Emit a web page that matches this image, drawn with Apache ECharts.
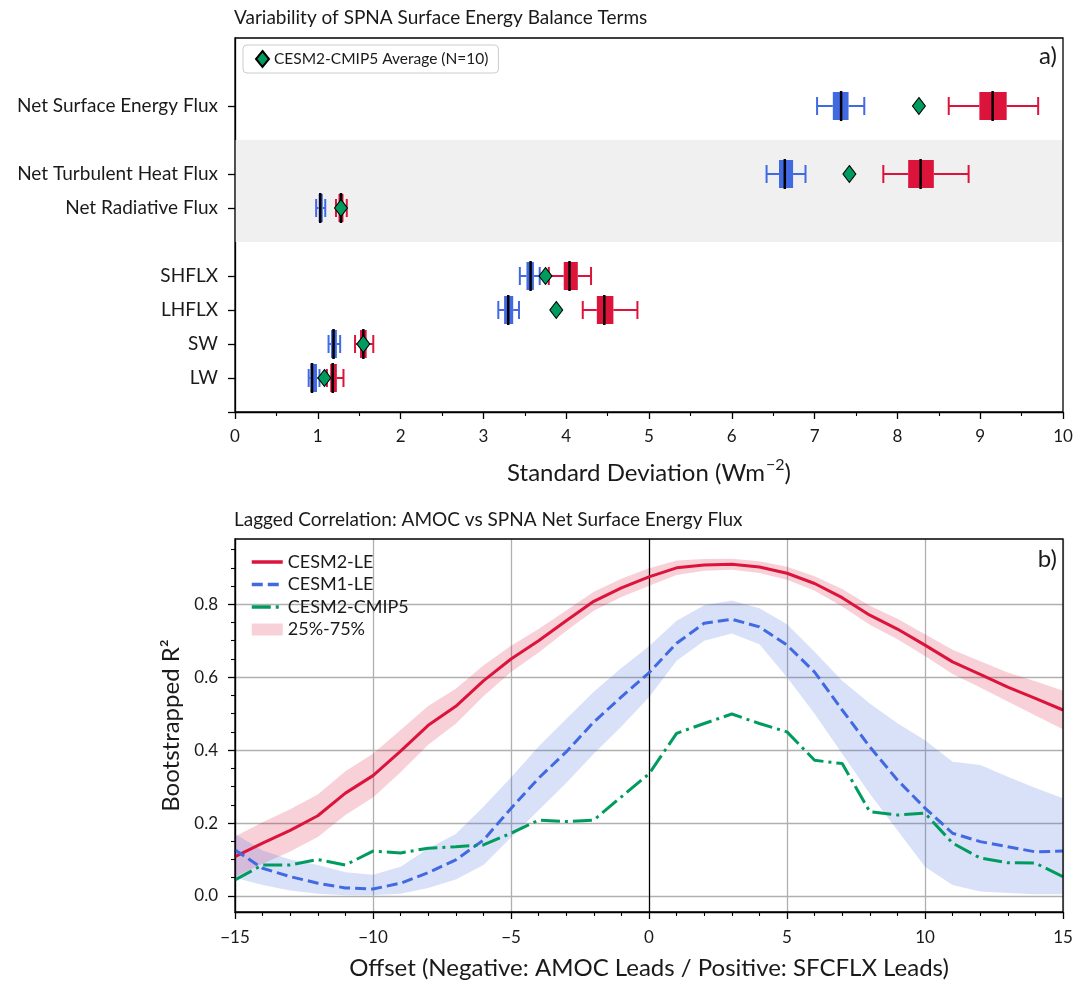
<!DOCTYPE html>
<html><head><meta charset="utf-8">
<script src="https://cdn.jsdelivr.net/npm/echarts@6/dist/echarts.min.js"></script>
<style>html,body{margin:0;padding:0;background:#fff}#c{width:1088px;height:982px}</style>
</head><body><div id="c"></div>
<script>
// ---------- Panel a) data ----------
const termNames = ['Net Surface Energy Flux','Net Turbulent Heat Flux','Net Radiative Flux','SHFLX','LHFLX','SW','LW'];
const termRows  = [9, 7, 6, 4, 3, 2, 1];
// [whiskerLow, q1, median, q3, whiskerHigh]
const cesm1Box = [
  [7.03, 7.22, 7.32, 7.41, 7.60],
  [6.42, 6.57, 6.64, 6.74, 6.89],
  [0.98, 1.01, 1.03, 1.06, 1.09],
  [3.44, 3.52, 3.57, 3.61, 3.68],
  [3.18, 3.25, 3.30, 3.36, 3.43],
  [1.13, 1.16, 1.19, 1.23, 1.27],
  [0.89, 0.91, 0.93, 0.99, 1.02]
];
const cesm2Box = [
  [8.62, 8.99, 9.15, 9.32, 9.70],
  [7.83, 8.13, 8.28, 8.44, 8.86],
  [1.22, 1.25, 1.28, 1.31, 1.35],
  [3.79, 3.97, 4.04, 4.14, 4.30],
  [4.20, 4.37, 4.46, 4.57, 4.86],
  [1.45, 1.51, 1.55, 1.59, 1.67],
  [1.11, 1.15, 1.18, 1.23, 1.31]
];
const cmip5Avg = [8.26, 7.42, 1.28, 3.75, 3.88, 1.55, 1.08];
const xTicksA = [0,1,2,3,4,5,6,7,8,9,10];

// ---------- Panel b) data ----------
const lags = [-15,-14,-13,-12,-11,-10,-9,-8,-7,-6,-5,-4,-3,-2,-1,0,1,2,3,4,5,6,7,8,9,10,11,12,13,14,15];
const cesm2Line = [0.108,0.145,0.18,0.22,0.282,0.33,0.397,0.468,0.52,0.59,0.65,0.70,0.755,0.808,0.845,0.875,0.90,0.908,0.91,0.902,0.885,0.857,0.818,0.77,0.732,0.688,0.642,0.608,0.573,0.542,0.51];
const cesm2Lo = [0.053,0.088,0.122,0.162,0.222,0.27,0.339,0.415,0.472,0.548,0.614,0.668,0.727,0.782,0.82,0.851,0.88,0.892,0.895,0.886,0.867,0.837,0.794,0.744,0.704,0.658,0.609,0.572,0.533,0.495,0.457];
const cesm2Hi = [0.163,0.202,0.238,0.278,0.342,0.39,0.455,0.521,0.568,0.632,0.686,0.732,0.783,0.834,0.87,0.899,0.92,0.924,0.925,0.918,0.903,0.877,0.842,0.796,0.76,0.718,0.675,0.644,0.613,0.589,0.563];
const cesm1Line = [0.126,0.076,0.053,0.035,0.022,0.019,0.035,0.064,0.099,0.153,0.24,0.323,0.395,0.477,0.546,0.612,0.693,0.748,0.759,0.738,0.688,0.614,0.51,0.409,0.318,0.241,0.172,0.149,0.135,0.121,0.123];
const cesm1Lo = [0.05,0.03,0.015,0.006,0.002,0.002,0.006,0.022,0.045,0.085,0.16,0.235,0.31,0.39,0.465,0.545,0.645,0.70,0.72,0.69,0.60,0.50,0.39,0.28,0.18,0.08,0.03,0.012,0.008,0.005,0.005];
const cesm1Hi = [0.17,0.125,0.10,0.085,0.065,0.058,0.08,0.13,0.17,0.245,0.325,0.41,0.485,0.56,0.625,0.685,0.755,0.797,0.81,0.789,0.745,0.67,0.59,0.528,0.474,0.427,0.368,0.359,0.327,0.296,0.268];
const cmip5Line = [0.044,0.085,0.085,0.10,0.085,0.123,0.118,0.131,0.135,0.14,0.172,0.208,0.204,0.208,0.272,0.335,0.446,0.473,0.499,0.473,0.45,0.372,0.363,0.231,0.222,0.227,0.145,0.104,0.091,0.09,0.053];
const yTicksB = [0, 0.2, 0.4, 0.6, 0.8];
const yMinorB = [0.05,0.1,0.15,0.25,0.3,0.35,0.45,0.5,0.55,0.65,0.7,0.75,0.85,0.9,0.95];

// ---------- styles ----------
const RED = '#DC143C', BLUE = '#4169E1', GREEN = '#009B5F';
const RED_BAND = 'rgba(220,20,60,0.2)', BLUE_BAND = 'rgba(65,105,225,0.2)';
const FONT = 'Lato';
const TXT = '#1a1a1a';

function boxRender(color) {
  return function (params, api) {
    const y = api.value(0);
    const c = i => api.coord([api.value(i), y]);
    const lo = c(1), q1 = c(2), md = c(3), q3 = c(4), hi = c(5);
    const cy = lo[1];
    const bh = 14, ch = 9, mh = 15;
    const ls = { stroke: color, lineWidth: 2 };
    return { type: 'group', children: [
      { type: 'line', shape: { x1: lo[0], y1: cy, x2: q1[0], y2: cy }, style: ls },
      { type: 'line', shape: { x1: q3[0], y1: cy, x2: hi[0], y2: cy }, style: ls },
      { type: 'line', shape: { x1: lo[0], y1: cy - ch, x2: lo[0], y2: cy + ch }, style: ls },
      { type: 'line', shape: { x1: hi[0], y1: cy - ch, x2: hi[0], y2: cy + ch }, style: ls },
      { type: 'rect', shape: { x: q1[0], y: cy - bh, width: q3[0] - q1[0], height: 2 * bh }, style: { fill: color } },
      { type: 'line', shape: { x1: md[0], y1: cy - mh, x2: md[0], y2: cy + mh }, style: { stroke: '#000', lineWidth: 2.5 } }
    ]};
  };
}

function bandRender(lo, hi, color) {
  return function (params, api) {
    if (params.dataIndex !== 0) return null;
    const pts = [];
    for (let i = 0; i < lags.length; i++) pts.push(api.coord([lags[i], hi[i]]));
    for (let i = lags.length - 1; i >= 0; i--) pts.push(api.coord([lags[i], lo[i]]));
    return { type: 'polygon', shape: { points: pts }, style: { fill: color } };
  };
}

const labelMap = {};
termRows.forEach((r, i) => { labelMap[r] = termNames[i]; });

const chart = echarts.init(document.getElementById('c'), null, { renderer: 'canvas' });
const fmtNeg = v => (v < 0 ? '\u2212' + Math.abs(v) : String(v));

const option = {
  backgroundColor: '#fff',
  animation: false,
  textStyle: { fontFamily: FONT, color: TXT },
  title: [
    { text: 'Variability of SPNA Surface Energy Balance Terms', left: 234, top: 8, padding: 0,
      textStyle: { fontFamily: FONT, fontSize: 19, fontWeight: 'normal', color: TXT } },
    { text: 'Lagged Correlation: AMOC vs SPNA Net Surface Energy Flux', left: 234, top: 510, padding: 0,
      textStyle: { fontFamily: FONT, fontSize: 19, fontWeight: 'normal', color: TXT } },
    { text: 'a)', right: 31, top: 44, padding: 0, textStyle: { fontFamily: FONT, fontSize: 24, fontWeight: 'normal', color: TXT } },
    { text: 'b)', right: 31, top: 547, padding: 0, textStyle: { fontFamily: FONT, fontSize: 24, fontWeight: 'normal', color: TXT } }
  ],
  legend: [
    { data: ['CESM2-CMIP5 Average (N=10)'], left: 243, top: 45, orient: 'vertical',
      icon: 'diamond', itemWidth: 13, itemHeight: 16, padding: [5, 10, 5, 12],
      borderColor: '#cccccc', borderWidth: 1, borderRadius: 4, selectedMode: false,
      textStyle: { fontFamily: FONT, fontSize: 15.5, color: TXT } },
    { data: ['CESM2-LE', 'CESM1-LE', 'CESM2-CMIP5', { name: '25%-75%', icon: 'rect', itemStyle: { color: RED_BAND, opacity: 1 } }],
      left: 245, top: 548, orient: 'vertical', itemWidth: 31, itemHeight: 12, itemGap: 4.5,
      itemStyle: { opacity: 0 }, lineStyle: { width: 3.5 },
      selectedMode: false, textStyle: { fontFamily: FONT, fontSize: 18, lineHeight: 18, color: TXT } }
  ],
  grid: [
    { left: 235, top: 38, width: 828, height: 374, show: true, borderColor: '#000', borderWidth: 1.3, backgroundColor: 'transparent', z: 10 },
    { left: 235, top: 539, width: 828, height: 373, show: true, borderColor: '#000', borderWidth: 1.3, backgroundColor: 'transparent', z: 10 }
  ],
  xAxis: [
    { gridIndex: 0, type: 'value', min: 0, max: 10, interval: 1,
      axisLine: { show: true, lineStyle: { color: '#000', width: 1.3 } },
      axisTick: { show: true, length: 7, lineStyle: { color: '#000', width: 1.3 } },
      minorTick: { show: true, splitNumber: 2, length: 4, lineStyle: { color: '#000', width: 1.1 } },
      splitLine: { show: false },
      axisLabel: { margin: 16, fontSize: 17, color: TXT, fontFamily: FONT, formatter: v => (xTicksA.includes(v) ? String(v) : '') },
      name: '{n|Standard Deviation (Wm}{s|\u22122}{n|)}', nameLocation: 'middle', nameGap: 45,
      nameTextStyle: { rich: {
        n: { fontSize: 24, fontFamily: FONT, color: TXT, lineHeight: 28, verticalAlign: 'bottom' },
        s: { fontSize: 16, fontFamily: FONT, color: TXT, lineHeight: 28, verticalAlign: 'top', padding: [0, 0, 0, 1] } } } },
    { gridIndex: 1, type: 'value', min: -15, max: 15, interval: 5,
      axisLine: { show: true, onZero: false, lineStyle: { color: '#000', width: 1.3 } },
      axisTick: { show: true, length: 7, lineStyle: { color: '#000', width: 1.3 } },
      minorTick: { show: true, splitNumber: 5, length: 4, lineStyle: { color: '#000', width: 1.1 } },
      splitLine: { show: true, lineStyle: { color: '#b0b0b0', width: 1.3 } },
      axisLabel: { margin: 17, fontSize: 17, color: TXT, fontFamily: FONT, formatter: fmtNeg },
      name: 'Offset (Negative: AMOC Leads / Positive: SFCFLX Leads)', nameLocation: 'middle', nameGap: 44,
      nameTextStyle: { fontSize: 24, fontFamily: FONT, color: TXT } }
  ],
  yAxis: [
    { gridIndex: 0, type: 'value', min: 0, max: 11,
      axisLine: { show: true, onZero: false, lineStyle: { color: '#000', width: 1.3 } },
      axisTick: { show: true, length: 7, customValues: [0].concat(termRows), lineStyle: { color: '#000', width: 1.3 } },
      axisLabel: { customValues: termRows, margin: 17, fontSize: 19, color: TXT, fontFamily: FONT, formatter: v => labelMap[v] || '' },
      splitLine: { show: false } },
    { gridIndex: 1, type: 'value', min: -0.044, max: 0.979,
      axisLine: { show: true, onZero: false, lineStyle: { color: '#000', width: 1.3 } },
      axisTick: { show: true, length: 7, customValues: yTicksB, lineStyle: { color: '#000', width: 1.3 } },
      axisLabel: { customValues: yTicksB, margin: 17, fontSize: 17, color: TXT, fontFamily: FONT, formatter: v => v.toFixed(1) },
      splitLine: { show: true, lineStyle: { color: '#b0b0b0', width: 1.3 } },
      name: 'Bootstrapped R\u00b2', nameLocation: 'middle', nameGap: 52,
      nameTextStyle: { fontSize: 24, fontFamily: FONT, color: TXT } },
    { gridIndex: 1, type: 'value', min: -0.044, max: 0.979, position: 'left',
      axisLine: { show: false, onZero: false },
      axisTick: { show: true, length: 4, customValues: yMinorB, lineStyle: { color: '#000', width: 1.1 } },
      axisLabel: { show: false }, splitLine: { show: false } }
  ],
  series: [
    { name: 'band', type: 'line', xAxisIndex: 0, yAxisIndex: 0, data: [], z: 1, silent: true,
      markArea: { silent: true, itemStyle: { color: '#f0f0f0' }, data: [[{ yAxis: 5 }, { yAxis: 8 }]] } },
    { name: 'CESM1-LE box', type: 'custom', xAxisIndex: 0, yAxisIndex: 0, z: 3,
      renderItem: boxRender(BLUE), encode: { x: [1, 2, 3, 4, 5], y: 0 },
      data: termRows.map((r, i) => [r].concat(cesm1Box[i])) },
    { name: 'CESM2-LE box', type: 'custom', xAxisIndex: 0, yAxisIndex: 0, z: 4,
      renderItem: boxRender(RED), encode: { x: [1, 2, 3, 4, 5], y: 0 },
      data: termRows.map((r, i) => [r].concat(cesm2Box[i])) },
    { name: 'CESM2-CMIP5 Average (N=10)', type: 'scatter', xAxisIndex: 0, yAxisIndex: 0, z: 5,
      symbol: 'diamond', symbolSize: [13, 17],
      itemStyle: { color: GREEN, borderColor: '#000', borderWidth: 1, opacity: 1 },
      data: cmip5Avg.map((v, i) => [v, termRows[i]]) },

    // panel b bands
    { name: '25%-75%', type: 'custom', xAxisIndex: 1, yAxisIndex: 1, z: 2, silent: true,
      itemStyle: { color: RED_BAND },
      renderItem: bandRender(cesm2Lo, cesm2Hi, RED_BAND), encode: { x: 0, y: [1, 2] },
      data: lags.map((x, i) => [x, cesm2Lo[i], cesm2Hi[i]]) },
    { name: 'CESM1-LE 25%-75%', type: 'custom', xAxisIndex: 1, yAxisIndex: 1, z: 2, silent: true,
      itemStyle: { color: BLUE_BAND },
      renderItem: bandRender(cesm1Lo, cesm1Hi, BLUE_BAND), encode: { x: 0, y: [1, 2] },
      data: lags.map((x, i) => [x, cesm1Lo[i], cesm1Hi[i]]),
      markLine: { silent: true, symbol: 'none', label: { show: false },
        lineStyle: { color: '#000', width: 1.2, type: 'solid' }, data: [{ xAxis: 0 }] } },
    { name: 'CESM2-LE', type: 'line', xAxisIndex: 1, yAxisIndex: 1, symbol: 'none', z: 5,
      itemStyle: { color: RED }, lineStyle: { color: RED, width: 3 },
      data: lags.map((x, i) => [x, cesm2Line[i]]) },
    { name: 'CESM1-LE', type: 'line', xAxisIndex: 1, yAxisIndex: 1, symbol: 'none', z: 5,
      itemStyle: { color: BLUE }, lineStyle: { color: BLUE, width: 3, type: [11, 5], cap: 'butt' },
      data: lags.map((x, i) => [x, cesm1Line[i]]) },
    { name: 'CESM2-CMIP5', type: 'line', xAxisIndex: 1, yAxisIndex: 1, symbol: 'none', z: 5,
      itemStyle: { color: GREEN }, lineStyle: { color: GREEN, width: 3, type: [19, 5, 3, 5], cap: 'butt' },
      data: lags.map((x, i) => [x, cmip5Line[i]]) }
  ]
};
chart.setOption(option);
</script></body></html>
